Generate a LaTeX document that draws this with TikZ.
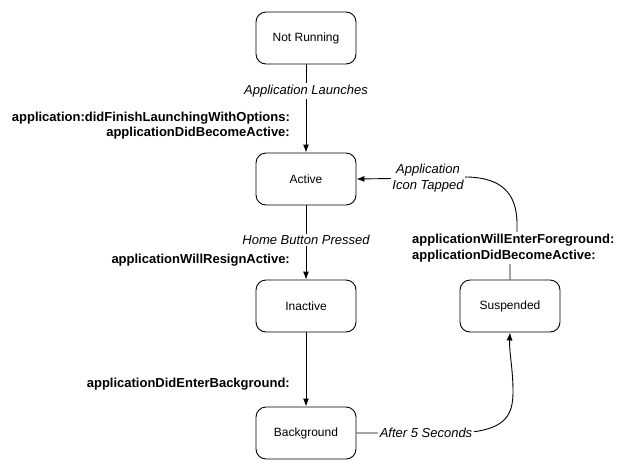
\documentclass[tikz,border=0pt]{standalone}
\usepackage{fontspec}
\setmainfont{Liberation Sans}
\usetikzlibrary{arrows.meta,backgrounds}
\begin{document}
\begin{tikzpicture}[x=1pt,y=-1pt,
 state/.style={draw, fill=white, rounded corners=10pt, minimum width=100pt, minimum height=52pt, font=\fontsize{12}{14}\selectfont, line width=0.9pt},
 conn/.style={line width=0.9pt},
 arr/.style={conn,-{Latex[length=8pt,width=6pt]}},
 elab/.style={fill=white, inner sep=1.5pt, align=center, font=\fontsize{13}{16}\selectfont\itshape},
 mlab/.style={font=\fontsize{13}{15.5}\selectfont\bfseries, inner sep=1pt}]
\useasboundingbox (0,0) rectangle (626,469);
\node[state] (nr) at (306,38) {Not Running};
\node[state] (act) at (306,179) {Active};
\node[state] (ina) at (306,306) {Inactive};
\node[state] (bg) at (306,433) {Background};
\node[state] (sus) at (510,306) {Suspended};

\node[elab] (launch) at (306,91) {Application Launches};
\node[elab] (home) at (306,240) {Home Button Pressed};
\node[elab] (tap) at (428,178) {Application\\Icon Tapped};
\node[elab] (five) at (426,433) {After 5 Seconds};

\node[mlab, anchor=east, align=right] (l1) at (291,125.5) {application:didFinishLaunchingWithOptions:\\applicationDidBecomeActive:};
\node[mlab, anchor=east] (l2) at (291,260) {applicationWillResignActive:};
\node[mlab, anchor=east] (l3) at (291,384) {applicationDidEnterBackground:};
\node[mlab, anchor=west, align=left, fill=white, inner sep=2pt] (l4) at (410,248) {applicationWillEnterForeground:\\applicationDidBecomeActive:};

\begin{scope}[on background layer]
\draw[arr] (nr) -- (launch) -- (act);
\draw[arr] (act) -- (home) -- (ina);
\draw[arr] (ina) -- (bg);
\draw[arr] (sus.north) -- (510,262) -- (517,232) -- (517,224)
  .. controls (517,192) and (500,178) .. (468,177) -- (tap.center) -- (act.east);
\draw[arr] (bg.east) -- (five.center) -- (472,432)
  .. controls (505,428) and (513,415) .. (513,392)
  .. controls (513,368) and (509,352) .. (sus.south);
\end{scope}
\end{tikzpicture}
\end{document}
